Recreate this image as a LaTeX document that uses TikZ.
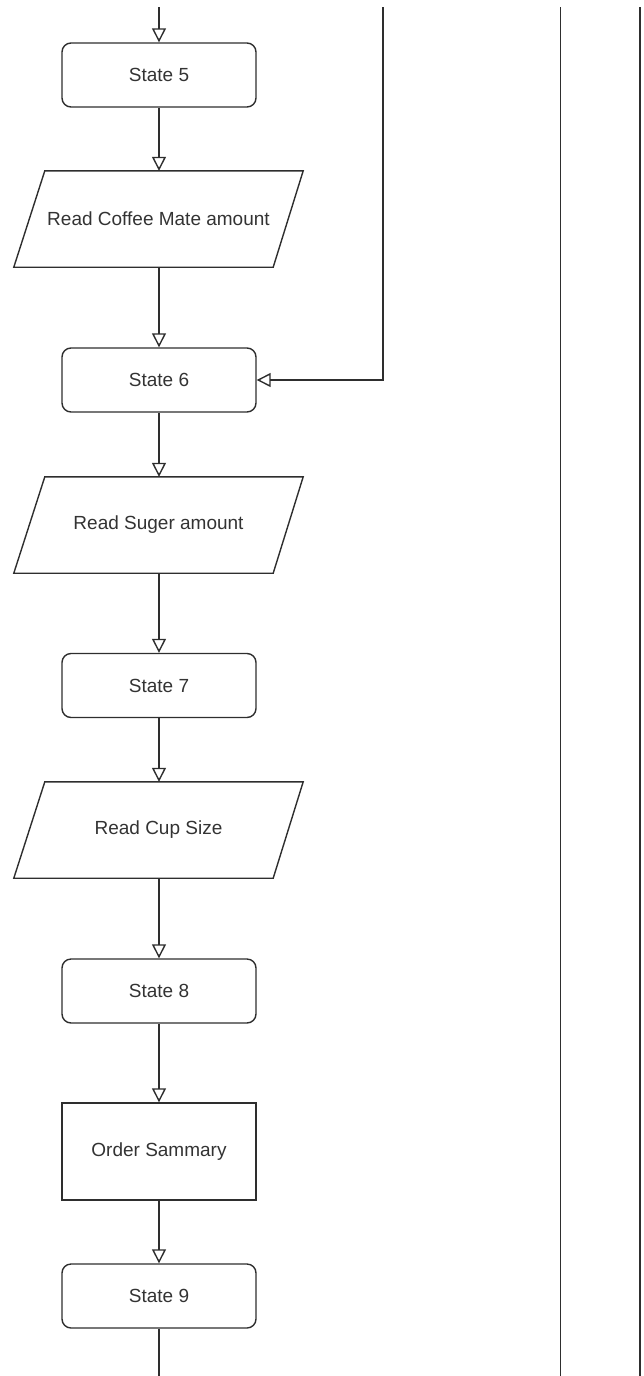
\documentclass[tikz,border=0pt]{standalone}
\usepackage{fontspec}
\setmainfont{Liberation Sans}
\usetikzlibrary{arrows.meta}
\definecolor{ln}{HTML}{2E2E2E}
\definecolor{tx}{HTML}{333333}
\begin{document}
\begin{tikzpicture}[x=1pt,y=-1pt,
  every node/.style={font=\fontsize{19}{23}\selectfont, text=tx},
  statebox/.style={draw=ln, line width=1.4pt, rounded corners=9pt, minimum width=194pt, minimum height=64pt, inner sep=0pt},
  iobox/.style={minimum width=289pt, minimum height=96pt, inner sep=0pt,
    append after command={\pgfextra{\draw[draw=ln, line width=1.4pt, line join=miter]
      ([xshift=31pt]\tikzlastnode.north west) -- (\tikzlastnode.north east)
      -- ([xshift=-30pt]\tikzlastnode.south east) -- (\tikzlastnode.south west) -- cycle;}}},
  procbox/.style={draw=ln, line width=1.4pt, minimum width=194pt, minimum height=97pt, inner sep=0pt},
  flow/.style={draw=ln, line width=1.4pt, -{Triangle[open,length=14pt,width=14pt]}},
  plain/.style={draw=ln, line width=1.4pt}]
\useasboundingbox (0,0) rectangle (643,1376);
% side lines
\coordinate (l1t) at (560.5,7);
\coordinate (l1b) at (560.5,1376);
\coordinate (l2t) at (640,7);
\coordinate (l2b) at (640,1376);
\draw[plain] (l1t) -- (l1b);
\draw[plain] (l2t) -- (l2b);
% nodes
\node[statebox] (s5) at (159,75) {State 5};
\node[iobox] (p1) at (158.5,219) {Read Coffee Mate amount};
\node[statebox] (s6) at (159,380) {State 6};
\node[iobox] (p2) at (158.5,525) {Read Suger amount};
\node[statebox] (s7) at (159,685.5) {State 7};
\node[iobox] (p3) at (158.5,830) {Read Cup Size};
\node[statebox] (s8) at (159,991) {State 8};
\node[procbox] (os) at (159,1151.5) {Order Sammary};
\node[statebox] (s9) at (159,1296) {State 9};
\coordinate (top) at (159,7);
\coordinate (rtop) at (383,7);
\coordinate (rbend) at (383,380);
\coordinate (bot) at (159,1376);
% connectors
\draw[flow] (top) -- (s5.north);
\draw[flow] (s5.south) -- (s5.south |- p1.north);
\draw[flow] (s5.south |- p1.south) -- (s6.north);
\draw[flow] (s6.south) -- (s6.south |- p2.north);
\draw[flow] (s6.south |- p2.south) -- (s7.north);
\draw[flow] (s7.south) -- (s7.south |- p3.north);
\draw[flow] (s7.south |- p3.south) -- (s8.north);
\draw[flow] (s8.south) -- (os.north);
\draw[flow] (os.south) -- (s9.north);
\draw[plain] (s9.south) -- (bot);
\draw[flow] (rtop) -- (rbend) -- (s6.east);
\end{tikzpicture}
\end{document}
